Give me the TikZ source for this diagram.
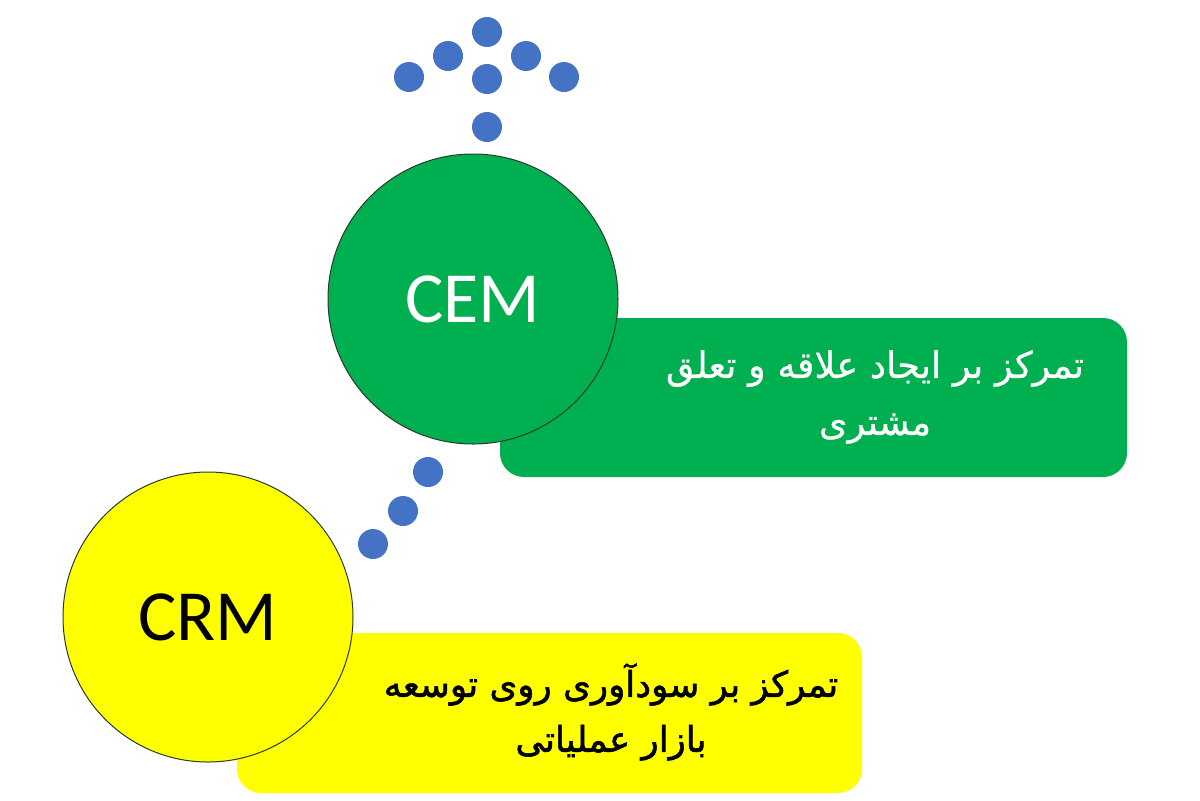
\documentclass[tikz,border=0pt]{standalone}
\usepackage{fontspec}
\setmainfont{Carlito}
\newfontfamily\arabicfont[Script=Arabic,FakeBold=0.6]{DejaVu Sans}
\newfontfamily\arabicheavy[Script=Arabic,FakeBold=1.6]{DejaVu Sans}
\TeXXeTstate=1
\definecolor{dotblue}{HTML}{4472C4}
\definecolor{cemgreen}{HTML}{00B050}
\definecolor{crmyellow}{HTML}{FFFF00}
\definecolor{edge}{HTML}{2A3A2A}
\tikzset{
  dotnode/.style={circle, fill=dotblue, draw=none, inner sep=0pt, minimum size=15pt},
  bigcircle/.style={circle, draw=edge, line width=0.5pt, inner sep=0pt, minimum size=145pt, font=\fontsize{36}{40}\selectfont},
  panel/.style={rectangle, rounded corners=12pt, draw=none, inner sep=0pt},
  ptext/.style={align=center, inner sep=0pt}
}
\begin{document}
\begin{tikzpicture}[x=0.5pt, y=-0.5pt]
\useasboundingbox (0,0) rectangle (1200,800);
% panels
\node[panel, fill=cemgreen, minimum width=313.5pt, minimum height=79.5pt] (gpanel) at (813.5,397.5) {};
\node[panel, fill=crmyellow, minimum width=312.5pt, minimum height=80pt] (ypanel) at (549.5,713) {};
% circles
\node[bigcircle, fill=cemgreen, text=white] (cem) at (473,299) {\raisebox{-3pt}{CEM}};
\node[bigcircle, fill=crmyellow, text=black] (crm) at (208,617) {\raisebox{-1.5pt}{CRM}};
% texts
\node[ptext, text=white, font=\arabicfont\fontsize{18.3}{28.5}\selectfont] (gtext) at (875,397) {\beginR تمرکز بر ایجاد علاقه و تعلق\endR\\\beginR مشتری\endR};
\node[ptext, text=black, font=\arabicheavy\fontsize{17.8}{27.5}\selectfont] (ytext) at (611,712) {\beginR تمرکز بر سودآوری روی توسعه\endR\\\beginR بازار عملیاتی\endR};
% top dots
\node[dotnode] (d1) at (487,32) {};
\node[dotnode] (d2) at (448,56) {};
\node[dotnode] (d3) at (526,56) {};
\node[dotnode] (d4) at (409,77) {};
\node[dotnode] (d5) at (487,79) {};
\node[dotnode] (d6) at (564,77) {};
\node[dotnode] (d7) at (487,127) {};
% middle dots
\node[dotnode] (m1) at (428,472) {};
\node[dotnode] (m2) at (403,511) {};
\node[dotnode] (m3) at (373,544) {};
\end{tikzpicture}
\end{document}
